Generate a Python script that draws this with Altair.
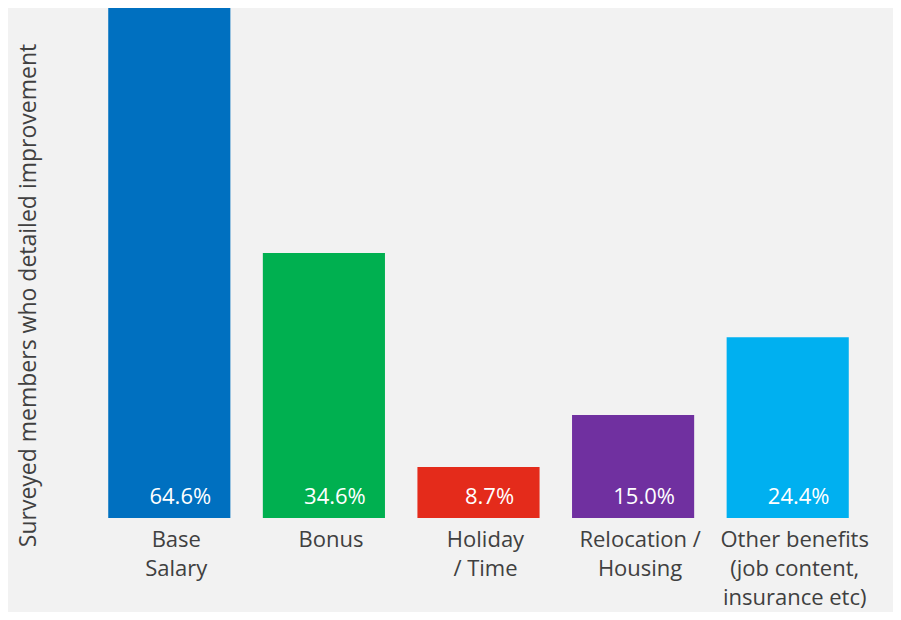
import altair as alt
import pandas as pd

categories = ["Base\nSalary", "Bonus", "Holiday\n/ Time", "Relocation /\nHousing", "Other benefits\n(job content,\ninsurance etc)"]
values = [64.6, 34.6, 8.7, 15.0, 24.4]
value_labels = ["64.6%", "34.6%", "8.7%", "15.0%", "24.4%"]
colors = ["#0070C0", "#00B050", "#E42B1B", "#7030A0", "#00B0F0"]

Y_MIN = 2.53
Y_MAX = 64.23

df = pd.DataFrame({"cat": categories, "value": values, "label": value_labels})

xenc = alt.X("cat:N", sort=categories, axis=None,
             scale=alt.Scale(paddingInner=0.21, paddingOuter=0.105))

bars = alt.Chart(df).mark_bar(clip=False).encode(
    x=xenc,
    y=alt.Y("value:Q",
            scale=alt.Scale(domain=[Y_MIN, Y_MAX], zero=False, nice=False),
            axis=alt.Axis(title="Surveyed members who detailed improvement",
                          domain=False, ticks=False, labels=False, grid=False,
                          titleFont="Open Sans", titleFontSize=23, titleFontWeight="normal",
                          titleColor="#404040", titleAngle=270,
                          titleX=-64, titleY=287, titleAlign="center",
                          titleBaseline="middle")),
    y2=alt.datum(Y_MIN),
    color=alt.Color("cat:N", sort=categories,
                    scale=alt.Scale(domain=categories, range=colors), legend=None),
)

vals = alt.Chart(df).mark_text(font="Open Sans", fontSize=22, color="white",
                               baseline="middle", align="center", dx=11, dy=-21).encode(
    x=xenc,
    y=alt.datum(Y_MIN),
    text="label:N",
)

cats = alt.Chart(df).mark_text(font="Open Sans", fontSize=22, color="#404040",
                               baseline="top", align="center", dx=7, dy=12,
                               lineBreak="\n", lineHeight=29).encode(
    x=xenc,
    y=alt.datum(Y_MIN),
    text="cat:N",
)

chart = alt.layer(bars, vals, cats).properties(
    width=773, height=510, background="#F2F2F2",
    autosize=alt.AutoSizeParams(type="none"),
    padding={"left": 84, "top": 0, "right": 28, "bottom": 94},
).configure_view(stroke=None)

chart.save("out.html", embed_options={"renderer": "svg", "actions": False})
